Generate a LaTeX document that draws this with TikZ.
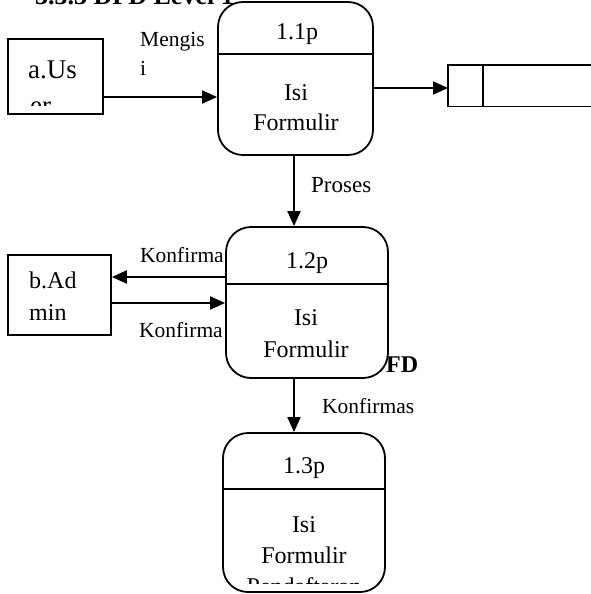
\documentclass[tikz,border=0pt]{standalone}
\usepackage{fontspec}
\setmainfont{Liberation Serif}
\usetikzlibrary{arrows.meta}
\begin{document}
\begin{tikzpicture}[x=1pt,y=-1pt,
  proc/.style={draw,line width=1.8pt,rounded corners=25pt,fill=white,inner sep=0pt},
  ent/.style={draw,line width=1.8pt,fill=white,inner sep=0pt},
  divline/.style={line width=1.3pt},
  arr/.style={line width=2pt,-{Triangle[length=15pt,width=13pt]}},
  lbl/.style={anchor=base west,inner sep=0pt,font=\fontsize{21.5}{26}\selectfont},
  ptxt/.style={anchor=base,inner sep=0pt,font=\fontsize{24}{30}\selectfont},
  btxt/.style={anchor=base west,inner sep=0pt,font=\fontsize{24}{30}\selectfont\bfseries}]
\clip (0,0) rectangle (591,594);
\fill[white] (0,0) rectangle (591,594);
% title (mostly cut off)
\node[btxt,font=\fontsize{26}{30}\selectfont\bfseries] (title) at (35,5) {3.3.3 DFD Level 1};
% external entities
\node[ent,minimum width=95pt,minimum height=75pt] (ua) at (55.5,76.5) {};
\begin{scope}
\clip (10,41) rectangle (101,105);
\node[anchor=base west,inner sep=0pt,font=\fontsize{27}{32}\selectfont] (uat1) at (28,78) {a.Us};
\node[anchor=base west,inner sep=0pt,font=\fontsize{27}{32}\selectfont] (uat2) at (30,114) {er};
\end{scope}
\node[ent,minimum width=103pt,minimum height=80pt] (ba) at (59.5,295) {};
\node[anchor=base west,inner sep=0pt,font=\fontsize{24}{30}\selectfont] (bat1) at (29,288) {b.Ad};
\node[anchor=base west,inner sep=0pt,font=\fontsize{24}{30}\selectfont] (bat2) at (29,320) {min};
% processes
\node[proc,minimum width=155pt,minimum height=153pt] (p11) at (295.5,78.5) {};
\coordinate (d1) at (0,54);
\draw[divline] (d1 -| p11.west) -- (d1 -| p11.east);
\node[ptxt] (p11a) at (297,40) {1.1p};
\node[ptxt] (p11b) at (296,100) {Isi};
\node[ptxt] (p11c) at (296,130) {Formulir};

\node[proc,minimum width=162pt,minimum height=151pt] (p12) at (307,302.5) {};
\coordinate (d2) at (0,284);
\draw[divline] (d2 -| p12.west) -- (d2 -| p12.east);
\node[ptxt] (p12a) at (307,268) {1.2p};
\node[ptxt] (p12b) at (306,325) {Isi};
\node[ptxt] (p12c) at (306,357) {Formulir};

\node[proc,minimum width=162pt,minimum height=159pt] (p13) at (304,512.5) {};
\coordinate (d3) at (0,489);
\draw[divline] (d3 -| p13.west) -- (d3 -| p13.east);
\node[ptxt] (p13a) at (304,473) {1.3p};
\node[ptxt] (p13b) at (304,532) {Isi};
\node[ptxt] (p13c) at (304,563) {Formulir};
\begin{scope}
\clip (230,570) rectangle (380,583);
\node[ptxt] (p13d) at (304,594) {Pendaftaran};
\end{scope}
% data store
\node[inner sep=0pt,minimum width=160pt,minimum height=41pt,anchor=north west] (ds) at (448,65) {};
\draw[line width=1.5pt] (ds.north east) -- (ds.north west) -- (ds.south west) -- (ds.south east);
\draw[line width=1.5pt] ([xshift=35pt]ds.north west) -- ([xshift=35pt]ds.south west);
% connectors
\coordinate (r1) at (0,97);
\draw[arr] (r1 -| ua.east) -- (r1 -| p11.west);
\coordinate (r2) at (0,88);
\draw[arr] (r2 -| p11.east) -- (r2 -| ds.west);
\coordinate (c1) at (294,0);
\draw[arr] (c1 |- p11.south) -- (c1 |- p12.north);
\coordinate (r3) at (0,277);
\draw[arr] (r3 -| p12.west) -- (r3 -| ba.east);
\coordinate (r4) at (0,303);
\draw[arr] (r4 -| ba.east) -- (r4 -| p12.west);
\draw[arr] (c1 |- p12.south) -- (c1 |- p13.north);
% labels
\node[lbl] (l1) at (140,47) {Mengis};
\node[lbl] (l1b) at (140,75) {i};
\node[lbl,font=\fontsize{23}{28}\selectfont] (l2) at (311,192) {Proses};
\node[lbl] (l3) at (140,262) {Konfirma};
\node[lbl] (l4) at (139,337) {Konfirma};
\node[lbl] (l5) at (322,413) {Konfirmas};
\node[btxt] (fd) at (386,372) {FD};
\end{tikzpicture}
\end{document}
